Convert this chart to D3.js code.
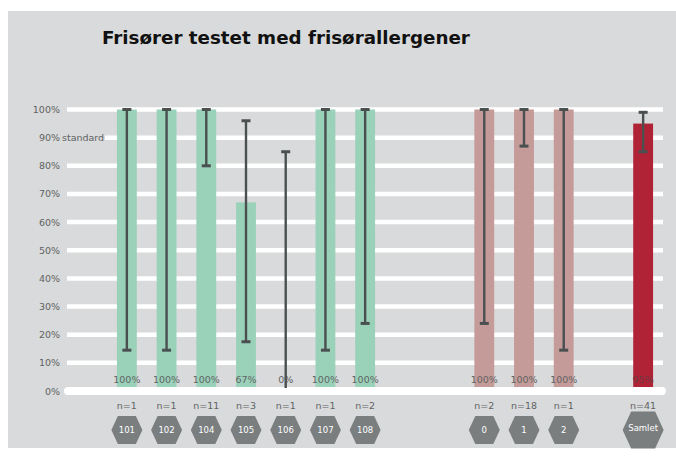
<!DOCTYPE html>
<html>
<head>
<meta charset="utf-8">
<script src="https://cdn.jsdelivr.net/npm/d3@7"></script>
<style>
  body { margin: 0; background: #ffffff; }
  text { font-family: "DejaVu Sans", Verdana, sans-serif; }
</style>
</head>
<body>
<script>
var svgWidth = 676;
var svgHeight = 456;

// chart data
var labels = ["101", "102", "104", "105", "106", "107", "108", "0", "1", "2", "Samlet"];
var values = [100, 100, 100, 67, 0, 100, 100, 100, 100, 100, 95];
var lower = [14.5, 14.5, 80, 17.5, 0, 14.5, 24, 24, 87, 14.5, 85];
var upper = [100, 100, 100, 96, 85, 100, 100, 100, 100, 100, 99];
var counts = [1, 1, 11, 3, 1, 1, 2, 2, 18, 1, 41];
var groups = ["a", "a", "a", "a", "a", "a", "a", "b", "b", "b", "total"];
var slots = ["101", "102", "104", "105", "106", "107", "108", "gap1", "gap2", "0", "1", "2", "gap3", "Samlet"];
var yTicks = [0, 10, 20, 30, 40, 50, 60, 70, 80, 90, 100];

var colors = { a: "#9ad1b9", b: "#c59b99", total: "#b02337" };

var dataset = labels.map(function(label, i) {
    return { label: label, value: values[i], lower: lower[i], upper: upper[i], n: counts[i], group: groups[i] };
});

var svg = d3.select("body").append("svg").attr("width", svgWidth).attr("height", svgHeight);

// grey panel
svg.append("rect")
    .attr("x", 8).attr("y", 11)
    .attr("width", 668).attr("height", 437)
    .attr("fill", "#d9dadb");

// title
svg.append("text")
    .attr("x", 102).attr("y", 44)
    .attr("font-size", 18.3).attr("font-weight", "bold")
    .attr("fill", "#111")
    .text("Frisører testet med frisørallergener");

var x = d3.scaleBand().domain(slots).range([107, 663]).paddingInner(0.5).paddingOuter(0.25);
var y = d3.scaleLinear().domain([0, 100]).range([391, 109.5]);

// gridlines
svg.append("g").selectAll("line").data(yTicks.filter(function(t) { return t > 0; })).join("line")
    .attr("x1", function(t) { return t === 90 ? 105 : 67; })
    .attr("x2", 663)
    .attr("y1", function(t) { return y(t); })
    .attr("y2", function(t) { return y(t); })
    .attr("stroke", "#ffffff")
    .attr("stroke-width", 4.5);

// y axis labels
var yAxis = svg.append("g")
    .attr("transform", "translate(60,0)")
    .call(d3.axisLeft(y).tickValues(yTicks).tickSize(0).tickPadding(0).tickFormat(function(t) { return t + "%"; }));
yAxis.select(".domain").remove();
yAxis.selectAll("text").attr("font-size", 9.5).attr("fill", "#5f6262").attr("font-family", "DejaVu Sans");

svg.append("text")
    .attr("x", 62).attr("y", y(90)).attr("dy", "0.32em")
    .attr("font-size", 9.5).attr("fill", "#5f6262")
    .text("standard");

// bars
svg.append("g").selectAll("rect").data(dataset).join("rect")
    .attr("x", function(d) { return x(d.label); })
    .attr("y", function(d) { return y(d.value); })
    .attr("width", x.bandwidth())
    .attr("height", function(d) { return y(0) - y(d.value); })
    .attr("fill", function(d) { return colors[d.group]; });

// baseline
svg.append("line")
    .attr("x1", 68).attr("x2", 662)
    .attr("y1", y(0)).attr("y2", y(0))
    .attr("stroke", "#ffffff")
    .attr("stroke-width", 8)
    .attr("stroke-linecap", "round");

// value labels
svg.append("g").selectAll("text").data(dataset).join("text")
    .attr("x", function(d) { return x(d.label) + x.bandwidth() / 2; })
    .attr("y", 380).attr("dy", "0.35em")
    .attr("text-anchor", "middle")
    .attr("font-size", 9.5)
    .attr("fill", function(d) { return d.group === "total" ? "#6e3a40" : "#5f6464"; })
    .text(function(d) { return d.value + "%"; });

// error bars
var err = svg.append("g").attr("stroke", "#4a4f50");
err.selectAll(".whisker").data(dataset).join("line")
    .attr("class", "whisker")
    .attr("x1", function(d) { return x(d.label) + x.bandwidth() / 2; })
    .attr("x2", function(d) { return x(d.label) + x.bandwidth() / 2; })
    .attr("y1", function(d) { return y(d.upper); })
    .attr("y2", function(d) { return d.lower === 0 ? y(0) - 3 : y(d.lower); })
    .attr("stroke-width", 2.4);
err.selectAll(".cap-top").data(dataset).join("line")
    .attr("class", "cap-top")
    .attr("x1", function(d) { return x(d.label) + x.bandwidth() / 2 - 4.5; })
    .attr("x2", function(d) { return x(d.label) + x.bandwidth() / 2 + 4.5; })
    .attr("y1", function(d) { return y(d.upper); })
    .attr("y2", function(d) { return y(d.upper); })
    .attr("stroke-width", 3);
err.selectAll(".cap-bottom").data(dataset.filter(function(d) { return d.lower > 0; })).join("line")
    .attr("class", "cap-bottom")
    .attr("x1", function(d) { return x(d.label) + x.bandwidth() / 2 - 4.5; })
    .attr("x2", function(d) { return x(d.label) + x.bandwidth() / 2 + 4.5; })
    .attr("y1", function(d) { return y(d.lower); })
    .attr("y2", function(d) { return y(d.lower); })
    .attr("stroke-width", 3);

// n labels
svg.append("g").selectAll("text").data(dataset).join("text")
    .attr("x", function(d) { return x(d.label) + x.bandwidth() / 2; })
    .attr("y", 406).attr("dy", "0.35em")
    .attr("text-anchor", "middle")
    .attr("font-size", 9.5)
    .attr("fill", "#5f6464")
    .text(function(d) { return "n=" + d.n; });

// hexagon badges
function hexPoints(w, h, top) {
    return [[-w / 2, 0], [-top / 2, -h / 2], [top / 2, -h / 2], [w / 2, 0], [top / 2, h / 2], [-top / 2, h / 2]]
        .map(function(p) { return p.join(","); }).join(" ");
}

var badge = svg.append("g").selectAll("g").data(dataset).join("g")
    .attr("transform", function(d) { return "translate(" + (x(d.label) + x.bandwidth() / 2) + ",430)"; });

badge.append("polygon")
    .attr("points", function(d) { return d.group === "total" ? hexPoints(41, 37, 24) : hexPoints(31, 28, 18); })
    .attr("fill", "#7a7e7f");

badge.append("text")
    .attr("text-anchor", "middle")
    .attr("dy", function(d) { return d.group === "total" ? "0.1em" : "0.35em"; })
    .attr("font-size", function(d) { return d.group === "total" ? 8.5 : 8.5; })
    .attr("fill", "#ffffff")
    .text(function(d) { return d.label; });
</script>
</body>
</html>
